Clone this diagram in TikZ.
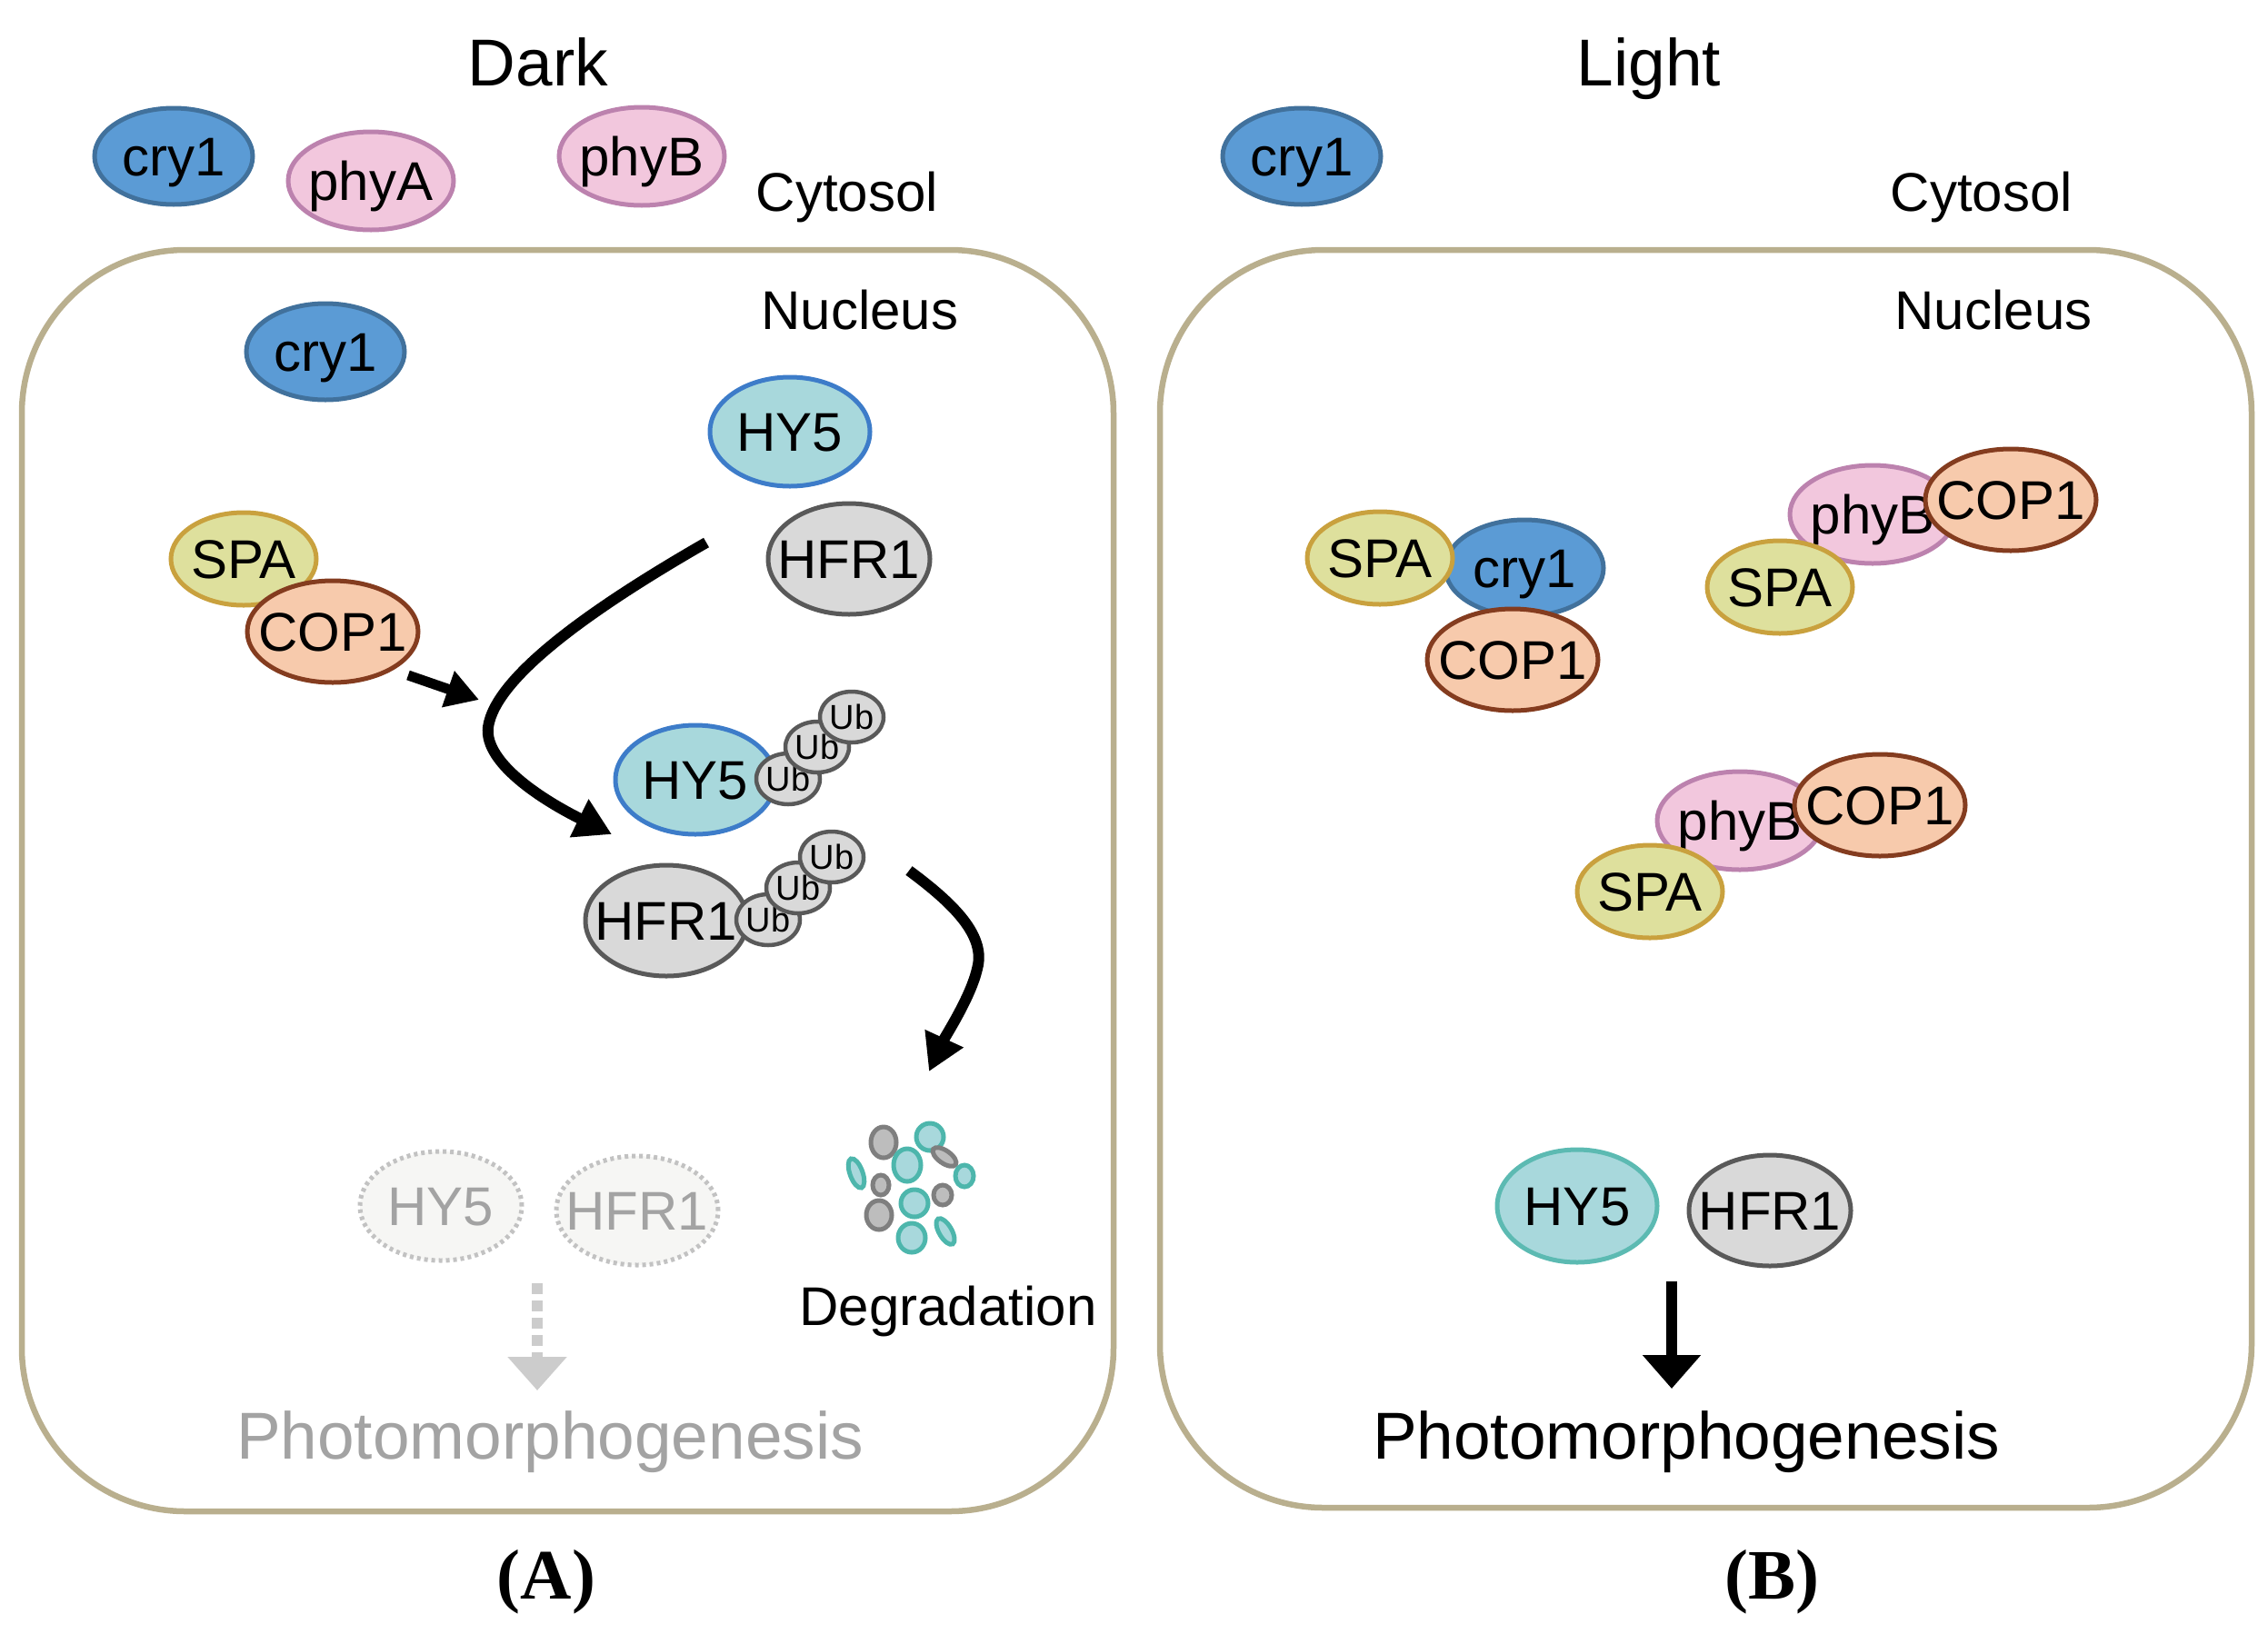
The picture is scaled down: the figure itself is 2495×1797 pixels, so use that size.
\documentclass[tikz,border=0pt]{standalone}
\usepackage{fontspec}
\setmainfont{Liberation Sans}
\newfontfamily\serifbf{Liberation Serif}
\usetikzlibrary{shapes.geometric,arrows.meta}
\definecolor{cryfill}{HTML}{5B9BD5}
\definecolor{cryline}{HTML}{41719C}
\definecolor{phyfill}{HTML}{F2C7DD}
\definecolor{phyline}{HTML}{BC82AE}
\definecolor{hyfill}{HTML}{A8D8DC}
\definecolor{hyline}{HTML}{3D7CC9}
\definecolor{hylineb}{HTML}{5CBAB2}
\definecolor{hfrfill}{HTML}{D9D9D9}
\definecolor{hfrline}{HTML}{595959}
\definecolor{spafill}{HTML}{DEE09D}
\definecolor{spaline}{HTML}{C9A13E}
\definecolor{copfill}{HTML}{F7CAAC}
\definecolor{copline}{HTML}{843C1F}
\definecolor{boxline}{HTML}{B9AF8E}
\definecolor{fadefill}{HTML}{F6F6F4}
\definecolor{fadeline}{HTML}{C2C2C2}
\definecolor{fadetext}{HTML}{A3A3A3}
\definecolor{dasharrow}{HTML}{CCCCCC}
\definecolor{ptfill}{HTML}{A8D8DC}
\definecolor{ptline}{HTML}{4DB6AC}
\definecolor{pgfill}{HTML}{BDBDBD}
\definecolor{pgline}{HTML}{7F7F7F}
\newcommand\fLab{\fontsize{60}{66}\selectfont}
\newcommand\fBig{\fontsize{73}{80}\selectfont}
\newcommand\fUb{\fontsize{38}{42}\selectfont}
\newcommand\fPanel{\serifbf\bfseries\fontsize{78}{86}\selectfont}
\newcommand\zc[1]{\makebox[0pt][c]{#1}}
\begin{document}
\begin{tikzpicture}[x=1pt,y=-1pt,
  prot/.style={ellipse, inner sep=0pt, line width=5pt, font=\fLab, text height=43pt, text depth=0pt},
  cryS/.style={prot, fill=cryfill, draw=cryline, minimum width=174pt, minimum height=106pt},
  phyS/.style={prot, fill=phyfill, draw=phyline, minimum width=182pt, minimum height=108pt},
  hyS/.style={prot, fill=hyfill, draw=hyline, minimum width=176pt, minimum height=120pt},
  hySb/.style={prot, fill=hyfill, draw=hylineb, minimum width=176pt, minimum height=124pt},
  hfrS/.style={prot, fill=hfrfill, draw=hfrline, minimum width=178pt, minimum height=122pt},
  spaS/.style={prot, fill=spafill, draw=spaline, minimum width=160pt, minimum height=102pt},
  copS/.style={prot, fill=copfill, draw=copline, minimum width=188pt, minimum height=112pt},
  ubS/.style={ellipse, inner sep=0pt, line width=4.5pt, fill=hfrfill, draw=hfrline, font=\fUb, text height=27pt, text depth=0pt, minimum width=70pt, minimum height=56pt},
  fadeS/.style={prot, fill=fadefill, draw=fadeline, dash pattern=on 4pt off 4pt, text=fadetext, minimum width=178pt, minimum height=120pt},
  txt/.style={inner sep=0pt, font=\fLab, text height=43pt, text depth=0pt},
  bigtxt/.style={inner sep=0pt, font=\fBig, text height=52pt, text depth=0pt},
  paneltxt/.style={inner sep=0pt, font=\fPanel, text height=52pt, text depth=0pt},
  nucbox/.style={draw=boxline, line width=6.5pt, rounded corners=180pt, minimum width=1201pt, inner sep=0pt},
  arr/.style={line width=12pt, -{Triangle[length=40pt,width=44pt]}},
  smallarr/.style={line width=11pt, -{Triangle[length=36pt,width=40pt]}},
  downarr/.style={line width=12pt, -{Triangle[length=37pt,width=62pt]}},
  fadearr/.style={draw=dasharrow, line width=12pt, dash pattern=on 12pt off 7pt, -{Triangle[length=37pt,width=63pt,fill=dasharrow]}},
  tealp/.style={fill=ptfill, draw=ptline, line width=5pt},
  grayp/.style={fill=pgfill, draw=pgline, line width=5pt}
]
\useasboundingbox (0,0) rectangle (2495,1797);

% ---------- Panel A ----------
\node[nucbox, minimum height=1388pt] (nucA) at (624.5,969) {};
\node[bigtxt] (darkT) at (592,68) {\zc{Dark}};
\node[cryS] (cryAc) at (191,172) {\zc{cry1}};
\node[phyS] (phyA) at (408,199) {\zc{phyA}};
\node[phyS] (phyBa) at (706,172) {\zc{phyB}};
\node[txt] (cytA) at (932,211) {\zc{Cytosol}};
\node[txt] (nucTA) at (946,341) {\zc{Nucleus}};
\node[cryS] (cryAn) at (358,387) {\zc{cry1}};
\node[hyS] (hyA) at (869,475) {\zc{HY5}};
\node[hfrS] (hfrA) at (934,615) {\zc{HFR1}};
\node[spaS] (spaA) at (268,615) {\zc{SPA}};
\node[copS] (copA) at (366,695) {\zc{COP1}};

\node[hyS] (hyU) at (765,858) {\zc{HY5}};
\node[ubS] (ub1) at (867,857) {\zc{Ub}};
\node[ubS] (ub2) at (899,822) {\zc{Ub}};
\node[ubS] (ub3) at (937,789) {\zc{Ub}};
\node[hfrS] (hfrU) at (733,1013) {\zc{HFR1}};
\node[ubS] (ub4) at (845,1012) {\zc{Ub}};
\node[ubS] (ub5) at (878,977) {\zc{Ub}};
\node[ubS] (ub6) at (915,943) {\zc{Ub}};

% arrows
\coordinate (s1) at (449,743);
\coordinate (e1) at (527,770);
\draw[smallarr] (s1) -- (e1);
\coordinate (c1s) at (777,597);
\coordinate (c1e) at (673,918);
\draw[arr, line cap=butt] (c1s) .. controls (650,670) and (545,745) .. (537,800)
  .. controls (532,840) and (600,882) .. (c1e);
\coordinate (c2s) at (1000,958);
\coordinate (c2e) at (1022,1179);
\draw[arr] (c2s) .. controls (1050,995) and (1085,1030) .. (1075,1066)
  .. controls (1068,1097) and (1040,1140) .. (c2e);

% degradation particles
\draw[grayp] (972,1257) ellipse [x radius=14, y radius=17];
\draw[tealp] (1023,1251) ellipse [x radius=15, y radius=15];
\draw[tealp] (998,1282) ellipse [x radius=15, y radius=18];
\draw[grayp] (1039,1273) ellipse [x radius=15, y radius=7, rotate=-35];
\draw[tealp] (942,1291) ellipse [x radius=7, y radius=17, rotate=20];
\draw[tealp] (1061,1294) ellipse [x radius=10, y radius=12];
\draw[grayp] (969,1304) ellipse [x radius=9, y radius=11];
\draw[grayp] (1037,1315) ellipse [x radius=10, y radius=11];
\draw[tealp] (1006,1324) ellipse [x radius=15, y radius=15];
\draw[grayp] (967,1337) ellipse [x radius=14, y radius=16];
\draw[tealp] (1003,1362) ellipse [x radius=15, y radius=16];
\draw[tealp] (1040,1355) ellipse [x radius=7, y radius=16, rotate=30];
\node[txt] (degT) at (1043,1437) {\zc{Degradation}};

% faded
\node[fadeS] (hyF) at (485,1327) {\zc{HY5}};
\node[fadeS] (hfrF) at (701,1332) {\zc{HFR1}};
\coordinate (d1s) at (591,1412);
\coordinate (d1e) at (591,1530);
\draw[fadearr] (d1s) -- (d1e);
\node[bigtxt, text=fadetext] (photoA) at (605,1579) {\zc{Photomorphogenesis}};
\node[paneltxt] (labA) at (601,1733) {\zc{(A)}};

% ---------- Panel B ----------
\node[nucbox, minimum height=1384pt] (nucB) at (1876.5,967) {};
\node[bigtxt] (lightT) at (1814,68) {\zc{Light}};
\node[cryS] (cryBc) at (1432,172) {\zc{cry1}};
\node[txt] (cytB) at (2180,211) {\zc{Cytosol}};
\node[txt] (nucTB) at (2193,341) {\zc{Nucleus}};

\node[cryS] (cryB) at (1677,625) {\zc{cry1}};
\node[spaS] (spaB1) at (1518,614) {\zc{SPA}};
\node[copS] (copB1) at (1664,726) {\zc{COP1}};

\node[phyS] (phyB1) at (2060,566) {\zc{phyB}};
\node[copS] (copB2) at (2212,550) {\zc{COP1}};
\node[spaS] (spaB2) at (1958,646) {\zc{SPA}};

\node[phyS] (phyB2) at (1914,903) {\zc{phyB}};
\node[copS] (copB3) at (2068,886) {\zc{COP1}};
\node[spaS] (spaB3) at (1815,981) {\zc{SPA}};

\node[hySb] (hyB) at (1735,1327) {\zc{HY5}};
\node[hfrS] (hfrB) at (1947,1332) {\zc{HFR1}};
\coordinate (d2s) at (1839,1410);
\coordinate (d2e) at (1839,1528);
\draw[downarr] (d2s) -- (d2e);
\node[bigtxt] (photoB) at (1855,1579) {\zc{Photomorphogenesis}};
\node[paneltxt] (labB) at (1949,1733) {\zc{(B)}};
\end{tikzpicture}
\end{document}
